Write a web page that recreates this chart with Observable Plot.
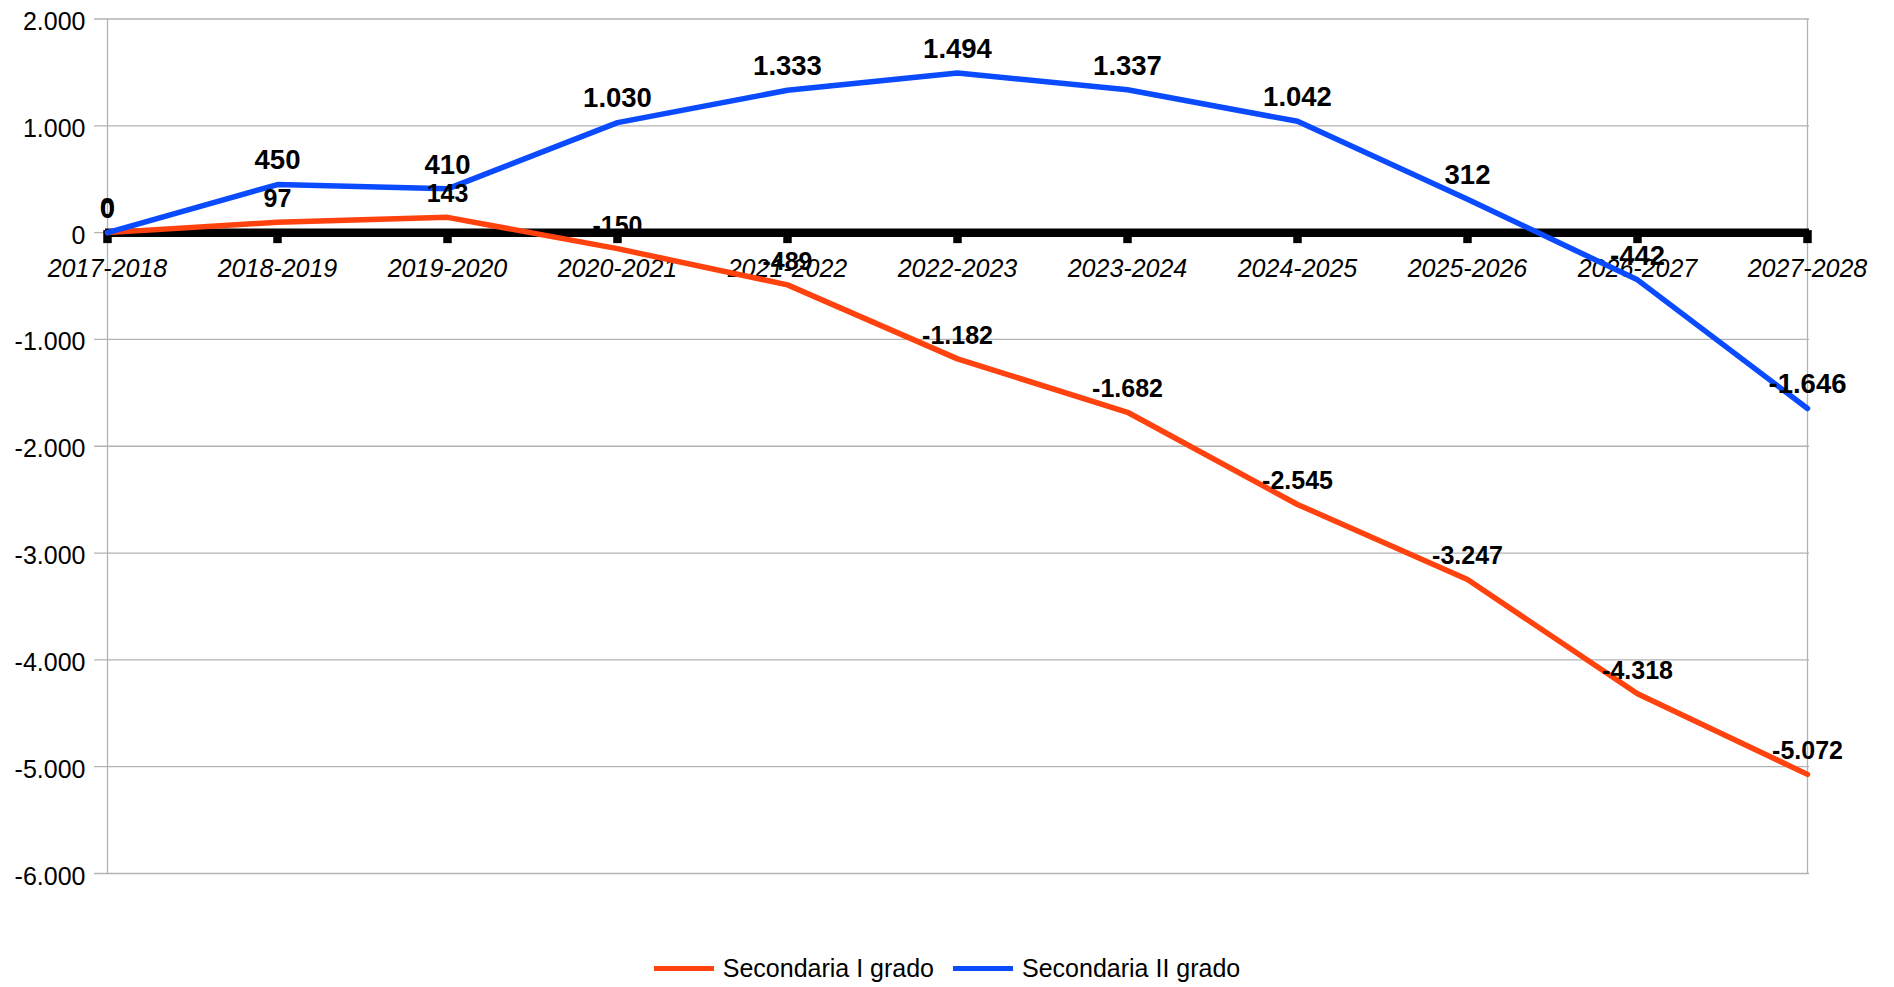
<!DOCTYPE html>
<html>
<head>
<meta charset="utf-8">
<script src="https://cdn.jsdelivr.net/npm/d3@7"></script>
<script src="https://cdn.jsdelivr.net/npm/@observablehq/plot@0.6"></script>
<style>
  html, body { margin: 0; padding: 0; background: #fff; }
  body { width: 1894px; height: 987px; position: relative; overflow: hidden; font-family: "Liberation Sans", Arial, sans-serif; }
  #legend { position: absolute; left: 0; width: 1894px; top: 952px; height: 32px; display: flex; justify-content: center; align-items: center; font-size: 25px; color: #000; }
  .item { display: flex; align-items: center; }
  .swatch { display: inline-block; width: 60px; height: 5px; margin-right: 9px; }
  .item + .item { margin-left: 19px; }
</style>
</head>
<body>
<div id="chart"></div>
<div id="legend"></div>
<script>
const categories = ["2017-2018", "2018-2019", "2019-2020", "2020-2021", "2021-2022", "2022-2023", "2023-2024", "2024-2025", "2025-2026", "2026-2027", "2027-2028"];
const seriesNames = ["Secondaria I grado", "Secondaria II grado"];
const secondariaI = [0, 97, 143, -150, -489, -1182, -1682, -2545, -3247, -4318, -5072];
const secondariaII = [0, 450, 410, 1030, 1333, 1494, 1337, 1042, 312, -442, -1646];
const yTicks = [2000, 1000, 0, -1000, -2000, -3000, -4000, -5000, -6000];
const colors = ["#ff420e", "#0a4bff"];

const it = d3.formatLocale({decimal: ",", thousands: ".", grouping: [3], currency: ["", " €"], minus: "-"});
const fmt = it.format(",d");

const rowsI = categories.map((c, i) => ({cat: c, value: secondariaI[i], series: seriesNames[0]}));
const rowsII = categories.map((c, i) => ({cat: c, value: secondariaII[i], series: seriesNames[1]}));

const W = 1894, H = 930;
const chart = Plot.plot({
  width: W,
  height: H,
  marginLeft: 105,
  marginRight: 85,
  marginTop: 18.5,
  marginBottom: 57,
  style: {fontFamily: "'Liberation Sans', Arial, sans-serif", fontSize: "25px", color: "#000", background: "#fff"},
  x: {type: "point", domain: categories, padding: 0, axis: null},
  y: {domain: [-6000, 2000], axis: null},
  marks: [
    Plot.ruleY(yTicks, {stroke: "#b3b3b3", strokeWidth: 1.3, insetLeft: -11}),
    Plot.ruleX([categories[0], categories[categories.length - 1]], {stroke: "#b3b3b3", strokeWidth: 1.3}),
    Plot.axisY(yTicks, {tickSize: 0, tickPadding: 20, tickFormat: fmt, fontSize: 25, dy: 3, label: null}),
    Plot.ruleY([0], {stroke: "#000", strokeWidth: 8.5}),
    Plot.ruleX(categories, {x: d => d, y1: 0, y2: 0, stroke: "#000", strokeWidth: 8.5, insetTop: -2, insetBottom: -11}),
    Plot.text(categories, {x: d => d, y: 0, text: d => d, fontStyle: "italic", fontSize: 25, dy: 36, fill: "#000"}),
    Plot.line(rowsI, {x: "cat", y: "value", stroke: colors[0], strokeWidth: 5.5, strokeLinejoin: "miter"}),
    Plot.line(rowsII, {x: "cat", y: "value", stroke: colors[1], strokeWidth: 5.5, strokeLinejoin: "miter"}),
    Plot.text(rowsI, {x: "cat", y: "value", text: d => fmt(d.value), fontWeight: "bold", fontSize: 25, dy: -23, fill: "#000"}),
    Plot.text(rowsII, {x: "cat", y: "value", text: d => fmt(d.value), fontWeight: "bold", fontSize: 27.5, dy: -24, fill: "#000"})
  ]
});
document.getElementById("chart").appendChild(chart);

const legend = document.getElementById("legend");
seriesNames.forEach((name, i) => {
  const item = document.createElement("div");
  item.className = "item";
  const sw = document.createElement("span");
  sw.className = "swatch";
  sw.style.background = colors[i];
  const label = document.createElement("span");
  label.textContent = name;
  item.appendChild(sw);
  item.appendChild(label);
  legend.appendChild(item);
});
</script>
</body>
</html>
